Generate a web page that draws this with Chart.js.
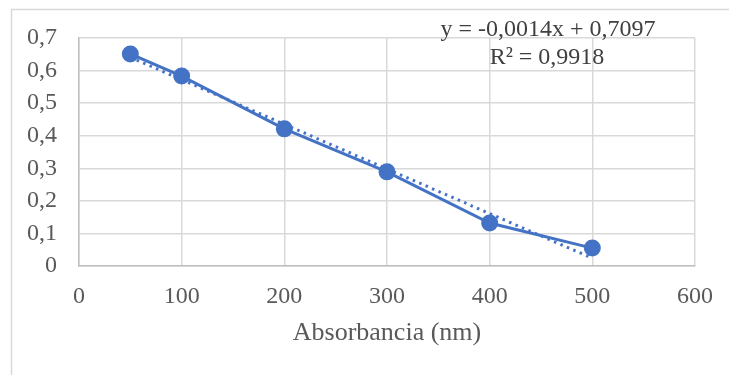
<!DOCTYPE html>
<html>
<head>
<meta charset="utf-8">
<script src="https://cdn.jsdelivr.net/npm/chart.js@4/dist/chart.umd.min.js"></script>
<style>
  html, body { margin: 0; padding: 0; background: #fff; }
  #wrap { width: 729px; height: 375px; }
</style>
</head>
<body>
<div id="wrap"><canvas id="chart" width="729" height="375"></canvas></div>
<script>
// data
var xValues = [50, 100, 200, 300, 400, 500];
var yValues = [0.651, 0.583, 0.421, 0.289, 0.132, 0.055];
// text of the trendline label, as printed on the chart
var trendLabel = ["y = -0,0014x + 0,7097", "R\u00b2 = 0,9918"];
var xTitle = "Absorbancia (nm)";

var blue = "#4472c4";
var gridGray = "#d9d9d9";
var textGray = "#595959";
var serif = "'Liberation Serif', 'Times New Roman', serif";

var points = xValues.map(function (x, i) { return { x: x, y: yValues[i] }; });

// least squares line through the data (what Excel's linear trendline draws)
function linearFit(xs, ys) {
  var n = xs.length, mx = 0, my = 0, sxx = 0, sxy = 0;
  for (var i = 0; i < n; i++) { mx += xs[i] / n; my += ys[i] / n; }
  for (var j = 0; j < n; j++) {
    sxx += (xs[j] - mx) * (xs[j] - mx);
    sxy += (xs[j] - mx) * (ys[j] - my);
  }
  var m = sxy / sxx;
  return { m: m, b: my - m * mx };
}
var fit = linearFit(xValues, yValues);
var xFirst = xValues[0], xLast = xValues[xValues.length - 1];
var trendPoints = [
  { x: xFirst, y: fit.m * xFirst + fit.b },
  { x: xLast, y: fit.m * xLast + fit.b }
];

function comma(v) {
  return String(v).replace('.', ',');
}

// outer frame + the trendline text
var decor = {
  id: 'decor',
  beforeDraw: function (chart) {
    var ctx = chart.ctx;
    ctx.save();
    ctx.fillStyle = '#fff';
    ctx.fillRect(0, 0, chart.width, chart.height);
    ctx.strokeStyle = gridGray;
    ctx.lineWidth = 1.5;
    ctx.strokeRect(11.5, 9.5, chart.width + 20, chart.height + 20);
    ctx.restore();
  },
  afterDraw: function (chart) {
    var ctx = chart.ctx;
    ctx.save();
    ctx.fillStyle = "#404040";
    ctx.font = "24px " + serif;
    ctx.textAlign = 'center';
    ctx.textBaseline = 'middle';
    ctx.fillText(trendLabel[0], 548, 30);
    ctx.fillText(trendLabel[1], 547, 58);
    ctx.restore();
  }
};

new Chart(document.getElementById('chart'), {
  type: 'scatter',
  data: {
    datasets: [{
      label: 'data',
      data: points,
      showLine: true,
      borderColor: blue,
      backgroundColor: blue,
      borderWidth: 3,
      pointRadius: 7,
      pointHoverRadius: 7,
      order: 1
    }, {
      label: 'trend',
      data: trendPoints,
      showLine: true,
      borderColor: blue,
      borderWidth: 3,
      borderDash: [2.5, 4.5],
      pointRadius: 0,
      order: 2
    }]
  },
  options: {
    responsive: false,
    animation: false,
    layout: { padding: { left: 11, top: 38, right: 34, bottom: 0 } },
    plugins: {
      legend: { display: false },
      tooltip: { enabled: false }
    },
    scales: {
      x: {
        type: 'linear',
        min: 0,
        max: 600,
        ticks: {
          stepSize: 100,
          color: textGray,
          padding: 16,
          font: { family: serif, size: 24 }
        },
        grid: { color: gridGray, lineWidth: 1.5, drawTicks: false },
        border: { color: '#bfbfbf', width: 1.5 },
        title: {
          display: true,
          text: xTitle,
          color: textGray,
          font: { family: serif, size: 26 },
          padding: { top: 4, bottom: 26 }
        },
        afterFit: function (scale) { scale.height = 109; }
      },
      y: {
        min: 0,
        max: 0.7,
        ticks: {
          stepSize: 0.1,
          color: textGray,
          padding: 22,
          font: { family: serif, size: 24 },
          callback: function (v) { return comma(Math.round(v * 10) / 10); }
        },
        grid: { color: gridGray, lineWidth: 1.5, drawTicks: false },
        border: { color: '#bfbfbf', width: 1.5 },
        afterFit: function (scale) { scale.width = 68; }
      }
    }
  },
  plugins: [decor]
});
</script>
</body>
</html>
